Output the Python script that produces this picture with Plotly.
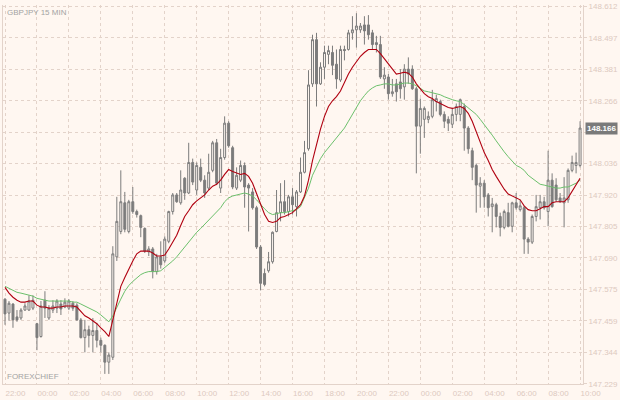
import pandas as pd
import plotly.graph_objects as go

# GBPJPY 15 min candles, 22:00 -> 10:00 next day
start_time = "2024-03-04 22:00"
n_bars = 145

open_prices = [
    147.539, 147.488, 147.521, 147.474, 147.470, 147.499, 147.499, 147.506, 147.449, 147.402,
    147.535, 147.470, 147.499, 147.506, 147.521, 147.510, 147.506, 147.524, 147.517, 147.463,
    147.398, 147.427, 147.406, 147.424, 147.388, 147.370, 147.308, 147.326, 147.694, 147.787,
    147.892, 147.787, 147.896, 147.860, 147.845, 147.798, 147.712, 147.723, 147.640, 147.694,
    147.679, 147.751, 147.860, 147.921, 147.892, 147.982, 147.928, 148.040, 147.939, 148.022,
    147.975, 147.946, 148.011, 148.112, 147.946, 148.058, 148.184, 148.094, 147.946, 147.975,
    148.029, 147.957, 147.932, 147.874, 147.730, 147.633, 147.643, 147.676, 147.787, 147.856,
    147.896, 147.860, 147.914, 147.878, 147.932, 148.004, 148.090, 148.328, 148.490, 148.328,
    148.389, 148.436, 148.443, 148.400, 148.342, 148.454, 148.454, 148.515, 148.526, 148.526,
    148.544, 148.544, 148.515, 148.479, 148.472, 148.346, 148.353, 148.292, 148.328, 148.335,
    148.317, 148.382, 148.382, 148.310, 148.173, 148.198, 148.198, 148.209, 148.263, 148.263,
    148.216, 148.198, 148.180, 148.216, 148.216, 148.245, 148.166, 148.083, 148.029, 147.953,
    147.964, 147.921, 147.878, 147.885, 147.842, 147.802, 147.856, 147.806, 147.892, 147.867,
    147.874, 147.759, 147.748, 147.842, 147.874, 147.896, 147.860, 147.975, 147.957, 147.910,
    147.892, 147.903, 148.011, 148.029, 148.029,
]
high_prices = [
    147.542, 147.532, 147.524, 147.499, 147.506, 147.524, 147.553, 147.553, 147.452, 147.532,
    147.568, 147.517, 147.535, 147.539, 147.535, 147.542, 147.539, 147.532, 147.524, 147.470,
    147.463, 147.442, 147.470, 147.452, 147.398, 147.373, 147.344, 147.733, 147.914, 148.011,
    147.932, 147.903, 147.950, 147.867, 147.849, 147.802, 147.733, 147.730, 147.705, 147.751,
    147.769, 147.863, 147.928, 147.928, 148.011, 147.986, 148.112, 148.054, 148.040, 148.054,
    147.993, 148.072, 148.119, 148.126, 148.090, 148.209, 148.191, 148.101, 148.022, 148.047,
    148.040, 147.964, 147.946, 147.881, 147.737, 147.651, 147.712, 147.787, 147.939, 147.964,
    147.975, 147.921, 147.946, 147.939, 148.058, 148.119, 148.378, 148.508, 148.515, 148.407,
    148.468, 148.468, 148.468, 148.454, 148.468, 148.468, 148.526, 148.576, 148.587, 148.551,
    148.576, 148.580, 148.526, 148.504, 148.504, 148.389, 148.364, 148.346, 148.346, 148.382,
    148.400, 148.425, 148.396, 148.317, 148.274, 148.245, 148.227, 148.306, 148.288, 148.270,
    148.227, 148.209, 148.238, 148.256, 148.274, 148.256, 148.173, 148.094, 148.036, 147.986,
    147.975, 147.928, 147.910, 147.892, 147.856, 147.867, 147.892, 147.896, 147.928, 147.903,
    147.881, 147.766, 147.849, 147.921, 147.921, 147.914, 148.083, 148.000, 147.982, 147.928,
    147.986, 148.018, 148.065, 148.076, 148.191,
]
low_prices = [
    147.445, 147.460, 147.434, 147.456, 147.463, 147.496, 147.496, 147.499, 147.352, 147.398,
    147.470, 147.463, 147.488, 147.488, 147.481, 147.506, 147.499, 147.496, 147.460, 147.395,
    147.344, 147.362, 147.344, 147.362, 147.344, 147.265, 147.265, 147.316, 147.679, 147.777,
    147.784, 147.780, 147.852, 147.838, 147.766, 147.708, 147.697, 147.615, 147.629, 147.651,
    147.672, 147.744, 147.849, 147.892, 147.885, 147.903, 147.924, 147.957, 147.921, 147.968,
    147.910, 147.939, 148.004, 147.957, 147.928, 148.050, 148.094, 147.942, 147.939, 147.968,
    147.874, 147.787, 147.867, 147.723, 147.571, 147.586, 147.636, 147.669, 147.784, 147.824,
    147.849, 147.842, 147.849, 147.842, 147.928, 148.000, 148.083, 148.317, 148.245, 148.324,
    148.346, 148.400, 148.360, 148.310, 148.335, 148.414, 148.450, 148.490, 148.461, 148.515,
    148.472, 148.490, 148.454, 148.443, 148.346, 148.310, 148.270, 148.281, 148.263, 148.274,
    148.270, 148.328, 148.306, 148.000, 148.072, 148.130, 148.184, 148.202, 148.227, 148.209,
    148.166, 148.155, 148.166, 148.191, 148.191, 148.083, 148.072, 147.975, 147.856, 147.874,
    147.874, 147.842, 147.784, 147.802, 147.769, 147.795, 147.802, 147.784, 147.867, 147.860,
    147.705, 147.705, 147.741, 147.824, 147.831, 147.867, 147.806, 147.874, 147.896, 147.892,
    147.802, 147.892, 148.004, 148.000, 148.022,
]
close_prices = [
    147.485, 147.524, 147.463, 147.463, 147.499, 147.514, 147.532, 147.535, 147.398, 147.514,
    147.506, 147.506, 147.514, 147.532, 147.503, 147.528, 147.532, 147.506, 147.463, 147.398,
    147.427, 147.406, 147.424, 147.388, 147.370, 147.308, 147.334, 147.705, 147.824, 147.896,
    147.795, 147.896, 147.860, 147.849, 147.802, 147.715, 147.723, 147.640, 147.694, 147.665,
    147.759, 147.860, 147.921, 147.896, 147.939, 147.928, 148.040, 147.968, 148.029, 147.975,
    147.928, 148.004, 148.112, 147.964, 148.058, 148.184, 148.101, 147.950, 147.993, 148.029,
    147.950, 147.946, 147.874, 147.730, 147.597, 147.593, 147.676, 147.784, 147.856, 147.896,
    147.860, 147.914, 147.885, 147.932, 148.004, 148.076, 148.324, 148.490, 148.328, 148.389,
    148.443, 148.450, 148.396, 148.346, 148.454, 148.450, 148.515, 148.526, 148.540, 148.540,
    148.522, 148.508, 148.472, 148.472, 148.353, 148.360, 148.292, 148.299, 148.299, 148.310,
    148.382, 148.364, 148.310, 148.173, 148.238, 148.238, 148.209, 148.270, 148.274, 148.216,
    148.191, 148.184, 148.216, 148.245, 148.270, 148.166, 148.090, 148.022, 147.957, 147.964,
    147.914, 147.874, 147.888, 147.842, 147.802, 147.860, 147.806, 147.892, 147.874, 147.881,
    147.759, 147.748, 147.842, 147.878, 147.896, 147.874, 147.975, 147.878, 147.903, 147.896,
    147.910, 148.011, 148.040, 148.040, 148.166,
]
# fast moving average (red) and slow moving average (green)
ma_fast = [
    147.582, 147.561, 147.546, 147.535, 147.528, 147.528, 147.532, 147.532, 147.517, 147.510,
    147.510, 147.506, 147.506, 147.510, 147.510, 147.514, 147.514, 147.514, 147.510, 147.492,
    147.478, 147.470, 147.460, 147.449, 147.434, 147.420, 147.402, 147.463, 147.532, 147.586,
    147.618, 147.651, 147.679, 147.705, 147.715, 147.715, 147.715, 147.708, 147.697, 147.697,
    147.701, 147.723, 147.748, 147.773, 147.809, 147.842, 147.863, 147.885, 147.899, 147.910,
    147.921, 147.939, 147.953, 147.960, 147.975, 147.996, 148.014, 148.007, 148.000, 147.996,
    148.000, 147.989, 147.964, 147.928, 147.885, 147.849, 147.824, 147.820, 147.824, 147.838,
    147.842, 147.849, 147.856, 147.870, 147.885, 147.917, 147.975, 148.047, 148.108, 148.162,
    148.209, 148.245, 148.266, 148.281, 148.302, 148.335, 148.364, 148.389, 148.411, 148.429,
    148.443, 148.454, 148.454, 148.454, 148.439, 148.421, 148.403, 148.382, 148.364, 148.367,
    148.371, 148.367, 148.353, 148.328, 148.310, 148.292, 148.281, 148.274, 148.263, 148.256,
    148.248, 148.241, 148.238, 148.241, 148.245, 148.238, 148.220, 148.191, 148.151, 148.112,
    148.076, 148.047, 148.014, 147.989, 147.964, 147.942, 147.924, 147.917, 147.910, 147.903,
    147.881, 147.867, 147.863, 147.863, 147.870, 147.878, 147.878, 147.892, 147.896, 147.896,
    147.896, 147.910, 147.935, 147.957, 147.982,
]
ma_slow = [
    147.586, 147.579, 147.571, 147.564, 147.561, 147.557, 147.553, 147.550, 147.542, 147.539,
    147.535, 147.532, 147.532, 147.532, 147.532, 147.532, 147.532, 147.528, 147.528, 147.521,
    147.514, 147.506, 147.499, 147.492, 147.481, 147.470, 147.456, 147.478, 147.506, 147.539,
    147.568, 147.589, 147.604, 147.615, 147.629, 147.636, 147.640, 147.640, 147.640, 147.643,
    147.654, 147.665, 147.679, 147.694, 147.712, 147.730, 147.751, 147.769, 147.784, 147.798,
    147.813, 147.827, 147.845, 147.860, 147.874, 147.896, 147.910, 147.917, 147.921, 147.924,
    147.928, 147.924, 147.917, 147.903, 147.885, 147.870, 147.856, 147.849, 147.852, 147.856,
    147.856, 147.860, 147.863, 147.867, 147.878, 147.910, 147.946, 147.993, 148.025, 148.054,
    148.076, 148.094, 148.112, 148.130, 148.144, 148.166, 148.191, 148.216, 148.241, 148.266,
    148.285, 148.302, 148.313, 148.321, 148.324, 148.328, 148.328, 148.324, 148.324, 148.328,
    148.331, 148.331, 148.328, 148.321, 148.310, 148.302, 148.299, 148.295, 148.292, 148.288,
    148.281, 148.274, 148.270, 148.266, 148.263, 148.252, 148.241, 148.230, 148.216, 148.198,
    148.180, 148.162, 148.140, 148.119, 148.097, 148.079, 148.061, 148.043, 148.029, 148.022,
    148.011, 147.993, 147.982, 147.971, 147.960, 147.957, 147.953, 147.950, 147.946, 147.946,
    147.950, 147.950, 147.957, 147.964, 147.975,
]
price_ticks = [147.229, 147.344, 147.459, 147.575, 147.690, 147.805, 147.920,
               148.036, 148.151, 148.266, 148.381, 148.497, 148.612]
last_price = "148.166"

BG = "#FFF7F1"
GRID = "#E3D3CA"
AXIS_TXT = "#DDC9BF"
CANDLE = "#7C7C7C"

times = pd.date_range(start_time, periods=n_bars, freq="15min")

fig = go.Figure()
fig.add_trace(go.Candlestick(
    x=times, open=open_prices, high=high_prices, low=low_prices, close=close_prices,
    increasing=dict(line=dict(color=CANDLE, width=1), fillcolor=BG),
    decreasing=dict(line=dict(color=CANDLE, width=1), fillcolor=CANDLE),
    whiskerwidth=0, hoverinfo="skip", showlegend=False,
))
fig.add_trace(go.Scatter(x=times, y=ma_slow, mode="lines",
                         line=dict(color="#6CC06C", width=1), showlegend=False))
fig.add_trace(go.Scatter(x=times, y=ma_fast, mode="lines",
                         line=dict(color="#B00010", width=1.1), showlegend=False))

x_lo = times[0] - pd.Timedelta(minutes=7.5)
x_hi = times[-1] + pd.Timedelta(minutes=11)

fig.update_layout(
    width=620, height=400,
    margin=dict(l=2, r=37, t=2, b=14),
    paper_bgcolor=BG, plot_bgcolor=BG,
    font=dict(family="Liberation Sans, Arial, sans-serif", size=8, color=AXIS_TXT),
    boxgap=0.3,
    hovermode=False,
    xaxis=dict(
        type="date", range=[x_lo, x_hi], rangeslider=dict(visible=False),
        tick0=times[0], dtick=2 * 3600 * 1000, tickformat="%H:%M",
        ticklabelposition="outside right", ticks="", ticklabelstandoff=1,
        ticklabeloverflow="allow",
        showgrid=True, gridcolor=GRID, griddash="3px,3px", gridwidth=1,
        showline=True, linecolor=GRID, linewidth=1, zeroline=False,
        tickfont=dict(color=AXIS_TXT, size=8),
    ),
    yaxis=dict(
        side="right", range=[147.228, 148.617],
        tickvals=price_ticks,
        ticktext=[f"{v:.3f}" if f"{v:.3f}" != "148.151" else "" for v in price_ticks],
        ticks="outside", ticklen=3, tickcolor=GRID, ticklabeloverflow="allow",
        showgrid=True, gridcolor=GRID, griddash="3px,3px", gridwidth=1,
        showline=True, mirror=True, linecolor=GRID, linewidth=1, zeroline=False,
        tickfont=dict(color=AXIS_TXT, size=8),
    ),
    annotations=[
        dict(text="GBPJPY 15 MIN", xref="paper", yref="paper", x=0, y=1,
             xanchor="left", yanchor="top", xshift=2, yshift=-1, showarrow=False,
             font=dict(color="#A3A3A3", size=8)),
        dict(text="FOREXCHIEF", xref="paper", yref="paper", x=0, y=0,
             xanchor="left", yanchor="bottom", xshift=2, yshift=1, showarrow=False,
             font=dict(color="#A3A3A3", size=8)),
        dict(text="<b>" + last_price + "</b>", xref="paper", yref="y", x=1,
             y=float(last_price), xanchor="left", yanchor="middle", xshift=2,
             showarrow=False, bgcolor="#7A7A7A", borderpad=1,
             font=dict(color="white", size=8)),
    ],
)

fig.write_html("out.html", config={"displayModeBar": False},
               post_script="document.body.style.margin='0';")
